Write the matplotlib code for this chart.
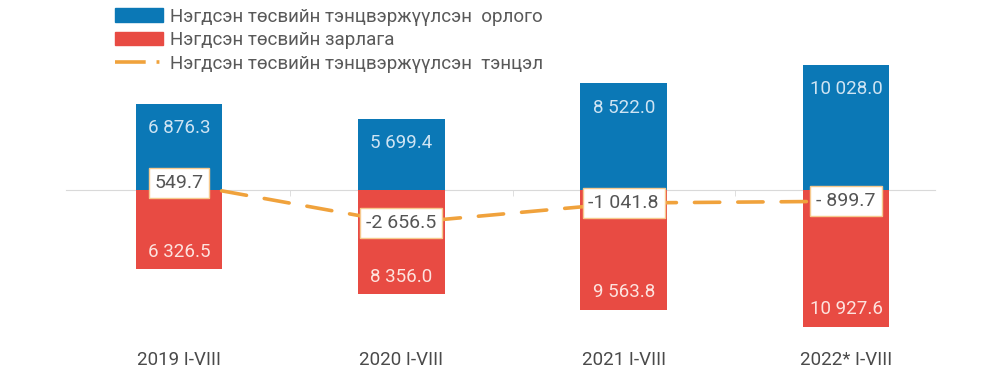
import numpy as np
import matplotlib
matplotlib.use("Agg")
import matplotlib.pyplot as plt
from matplotlib.patches import Patch
from matplotlib.lines import Line2D
from matplotlib import transforms

plt.rcParams['font.family'] = ['Roboto', 'DejaVu Sans']

# ---- data ----
periods = ["2019 I-VIII", "2020 I-VIII", "2021 I-VIII", "2022* I-VIII"]
revenue = [6876.3, 5699.4, 8522.0, 10028.0]
expense = [6326.5, 8356.0, 9563.8, 10927.6]
balance = [549.7, -2656.5, -1041.8, -899.7]
legend_names = ["Нэгдсэн төсвийн тэнцвэржүүлсэн  орлого",
                "Нэгдсэн төсвийн зарлага",
                "Нэгдсэн төсвийн тэнцвэржүүлсэн  тэнцэл"]

blue = "#0b78b6"
red = "#e84b43"
orange = "#f0a23c"


def fmt(v):
    s = f"{abs(v):,.1f}".replace(",", " ")
    if v < 0:
        return ("-" if abs(v) >= 1000 else "- ") + s
    return s


fig = plt.figure(figsize=(10, 3.83), dpi=100)
ax = fig.add_axes([66 / 1000, 1 - 340 / 383, 869 / 1000, 300 / 383])
x = np.arange(len(periods))
w = 0.39

ax.bar(x, revenue, width=w, color=blue, zorder=1)
ax.bar(x, [-v for v in expense], width=w, color=red, zorder=1)

ax.plot(x, balance, color=orange, lw=2.6, dashes=(7, 5),
        solid_capstyle="round", dash_capstyle="round", zorder=3)

for xi, v in zip(x, revenue):
    ax.annotate(fmt(v), (xi, v), xytext=(0, -17.5), textcoords="offset points",
                ha="center", va="center", fontsize=13.5, color="#cfe4f3", zorder=4)
for xi, v in zip(x, expense):
    ax.annotate(fmt(v), (xi, -v), xytext=(0, 12.5), textcoords="offset points",
                ha="center", va="center", fontsize=13.5, color="#fde3df", zorder=4)
for xi, v in zip(x, balance):
    ax.text(xi, v, fmt(v), ha="center", va="center", fontsize=14, color="#555555",
            zorder=5,
            bbox=dict(boxstyle="square,pad=0.3", fc="white", ec="#f6c98e", lw=1))

ax.set_xlim(-0.508, 3.40)
ax.set_ylim(-12000, 12000)

for s in ["top", "left", "right"]:
    ax.spines[s].set_visible(False)
ax.spines["bottom"].set_position(("data", 0))
ax.spines["bottom"].set_color("#d9d9d9")
ax.spines["bottom"].set_zorder(0.5)
ax.set_yticks([])
ax.set_xticks(x)
ax.set_xticklabels([])
ax.tick_params(axis="x", which="major", length=0)
ax.set_xticks([0.5, 1.5, 2.5], minor=True)
ax.tick_params(axis="x", which="minor", length=4, color="#d9d9d9", direction="out")

trans = transforms.blended_transform_factory(ax.transData, fig.transFigure)
for xi, p in zip(x, periods):
    ax.text(xi, 1 - 360 / 383, p, transform=trans, ha="center", va="center",
            fontsize=13.5, color="#4a4a4a")

handles = [Patch(color=blue), Patch(color=red),
           Line2D([0], [0], color=orange, lw=2.6, dashes=(8.5, 3, 0.8, 10))]
fig.legend(handles, legend_names, loc="upper left", bbox_to_anchor=(0.107, 1.0),
           frameon=False, fontsize=13.5, labelcolor="#595959", handlelength=2.6,
           handleheight=0.75, handletextpad=0.35, labelspacing=0.3,
           borderaxespad=0)

fig.savefig("out.png", dpi=100)
